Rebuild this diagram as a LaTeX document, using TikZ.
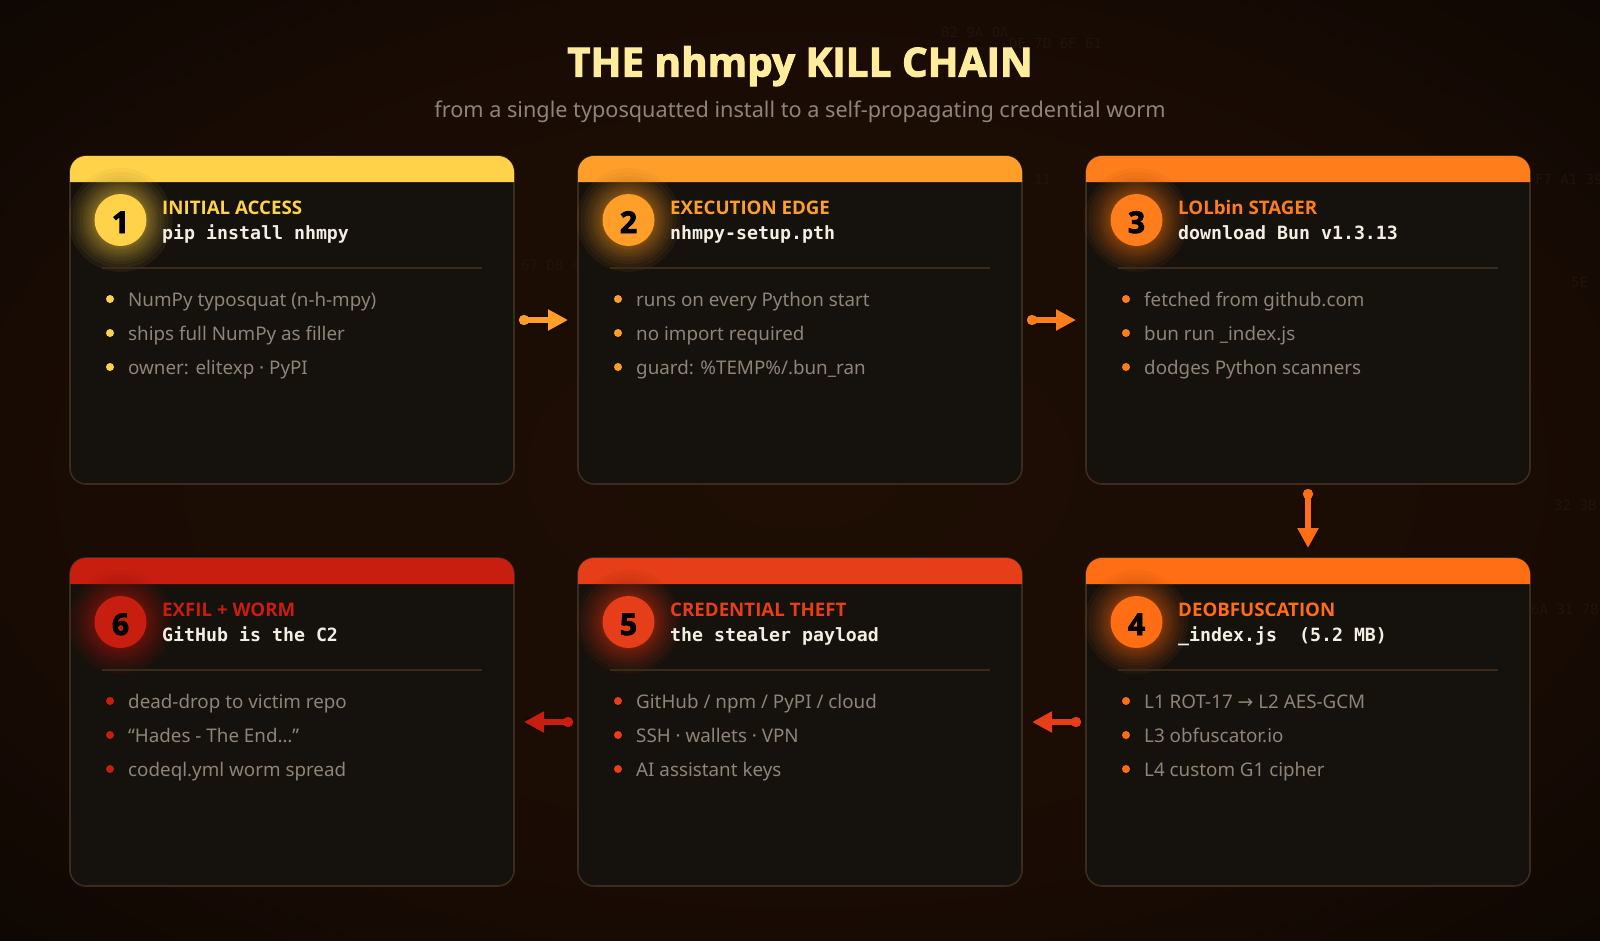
\documentclass[tikz,border=0pt]{standalone}
\usepackage{fontspec}
\setmainfont{Noto Sans}
\newfontfamily\titlefont[BoldFeatures={FakeBold=2.8,LetterSpace=0.7}]{Open Sans}
\newfontfamily\headfont{Open Sans}
\newfontfamily\codefont{DejaVu Sans Mono}
\newfontfamily\symfont{DejaVu Sans}
\usetikzlibrary{arrows.meta}
\definecolor{stageone}{HTML}{FFD24A}
\definecolor{stagetwo}{HTML}{FF9F2A}
\definecolor{stagethree}{HTML}{FF7D1A}
\definecolor{stagefour}{HTML}{FF6D14}
\definecolor{stagefive}{HTML}{E53E18}
\definecolor{stagesix}{HTML}{C81E10}
\definecolor{cardfill}{HTML}{15110C}
\definecolor{cardedge}{HTML}{3A2C1E}
\definecolor{rulecol}{HTML}{3A2A1A}
\definecolor{notecol}{HTML}{8E8478}
\definecolor{codecol}{HTML}{F4EEE2}
\definecolor{titlecol}{HTML}{FFEC9C}
\definecolor{hexcol}{HTML}{21140A}
\pgfdeclareradialshading{bgglow}{\pgfpointorigin}{rgb(0bp)=(0.118,0.055,0.016); rgb(22bp)=(0.102,0.047,0.016); rgb(36bp)=(0.055,0.027,0.012); rgb(48bp)=(0.016,0.008,0.004); rgb(71bp)=(0.004,0.004,0.004)}
\tikzset{
  card/.style={draw=cardedge, fill=cardfill, line width=1.6pt, rounded corners=16pt, minimum width=444pt, minimum height=328pt, inner sep=0pt, outer sep=0pt},
  glow/.style={fill opacity=.09},
  badge/.style={circle, minimum size=52pt, inner sep=0pt, text=black, text height=26pt, text depth=0pt, font=\titlefont\bfseries\fontsize{30}{32}\selectfont},
  stagehead/.style={anchor=base west, inner sep=0pt, font=\headfont\bfseries\fontsize{18.7}{22}\selectfont},
  stagecode/.style={anchor=base west, inner sep=0pt, text=codecol, font=\codefont\bfseries\fontsize{18.25}{22}\selectfont},
  note/.style={anchor=base west, inner sep=0pt, text=notecol, font=\fontsize{18.8}{24}\selectfont},
  cardrule/.style={draw=rulecol, line width=1.5pt},
  hexnote/.style={anchor=base west, inner sep=0pt, text=hexcol, font=\codefont\fontsize{14}{16}\selectfont},
  flow/.style={line width=5.5pt, {Circle[length=10pt]}-{Triangle[length=20pt,width=20pt]}, shorten <=5pt, shorten >=10pt, preaction={draw, -, line width=13pt, draw opacity=.08}, preaction={draw, -, line width=9pt, draw opacity=.1}}
}
\newcommand{\stageglow}[2]{\foreach \rad in {27,28,29,30,32,34,36,38,41,44,48,52} \fill[glow, #1!70!black] (#2) circle[radius=\rad pt];}
\begin{document}
\begin{tikzpicture}[x=1pt,y=-1pt]
\useasboundingbox (0,0) rectangle (1600,940);
\shade[shading=bgglow] (0,0) rectangle (1600,940);

\node[hexnote] (hexa) at (941,37) {B2 9A 0A};
\node[hexnote] (hexb) at (1009,48) {DE 7D 6F 61};
\node[hexnote] (hexc) at (1034,184) {11};
\node[hexnote] (hexd) at (1535,184) {F7 A1 39};
\node[hexnote] (hexe) at (521,270) {67 D8 4};
\node[hexnote] (hexf) at (1571,287) {5E};
\node[hexnote] (hexg) at (1554,510) {32 3B};
\node[hexnote] (hexh) at (1531,614) {6A 31 78};

\node[anchor=base, inner sep=0pt, text=titlecol, font=\titlefont\bfseries\fontsize{40}{44}\selectfont] (title) at (800,76.5) {THE nhmpy KILL CHAIN};
\node[anchor=base, inner sep=0pt, text=notecol, font=\fontsize{21.67}{26}\selectfont] (subtitle) at (800,117) {from a single typosquatted install to a self-propagating credential worm};

\node[card] (card1) at (292,320) {};
\fill[stageone] (70,182) {[rounded corners=16pt] -- (70,156) -- (514,156)} -- (514,182) -- cycle;
\stageglow{stageone}{120.5,220}
\node[badge, fill=stageone] (badge1) at (120.5,220) {1};
\node[stagehead, text=stageone] (head1) at (162,214) {INITIAL ACCESS};
\node[stagecode] (code1) at (162,239) {pip install nhmpy};
\draw[cardrule] (102,268) -- (482,268);
\fill[stageone] (110,299) circle[radius=4pt];
\fill[stageone] (110,333) circle[radius=4pt];
\fill[stageone] (110,367) circle[radius=4pt];
\node[note] (note1a) at (128,306.5) {NumPy typosquat (n-h-mpy)};
\node[note] (note1b) at (128,340.3) {ships full NumPy as filler};
\node[note] (note1c) at (128,374.3) {owner: elitexp · PyPI};

\node[card] (card2) at (800,320) {};
\fill[stagetwo] (578,182) {[rounded corners=16pt] -- (578,156) -- (1022,156)} -- (1022,182) -- cycle;
\stageglow{stagetwo}{628.5,220}
\node[badge, fill=stagetwo] (badge2) at (628.5,220) {2};
\node[stagehead, text=stagetwo] (head2) at (670,214) {EXECUTION EDGE};
\node[stagecode] (code2) at (670,239) {nhmpy-setup.pth};
\draw[cardrule] (610,268) -- (990,268);
\fill[stagetwo] (618,299) circle[radius=4pt];
\fill[stagetwo] (618,333) circle[radius=4pt];
\fill[stagetwo] (618,367) circle[radius=4pt];
\node[note] (note2a) at (636,306.5) {runs on every Python start};
\node[note] (note2b) at (636,340.3) {no import required};
\node[note] (note2c) at (636,374.3) {guard: \%TEMP\%/.bun\_ran};

\node[card] (card3) at (1308,320) {};
\fill[stagethree] (1086,182) {[rounded corners=16pt] -- (1086,156) -- (1530,156)} -- (1530,182) -- cycle;
\stageglow{stagethree}{1136.5,220}
\node[badge, fill=stagethree] (badge3) at (1136.5,220) {3};
\node[stagehead, text=stagethree] (head3) at (1178,214) {LOLbin STAGER};
\node[stagecode] (code3) at (1178,239) {download Bun v1.3.13};
\draw[cardrule] (1118,268) -- (1498,268);
\fill[stagethree] (1126,299) circle[radius=4pt];
\fill[stagethree] (1126,333) circle[radius=4pt];
\fill[stagethree] (1126,367) circle[radius=4pt];
\node[note] (note3a) at (1144,306.5) {fetched from github.com};
\node[note] (note3b) at (1144,340.3) {bun run \_index.js};
\node[note] (note3c) at (1144,374.3) {dodges Python scanners};

\node[card] (card4) at (1308,722) {};
\fill[stagefour] (1086,584) {[rounded corners=16pt] -- (1086,558) -- (1530,558)} -- (1530,584) -- cycle;
\stageglow{stagefour}{1136.5,622}
\node[badge, fill=stagefour] (badge4) at (1136.5,622) {4};
\node[stagehead, text=stagefour] (head4) at (1178,616) {DEOBFUSCATION};
\node[stagecode] (code4) at (1178,641) {\_index.js\ \ (5.2 MB)};
\draw[cardrule] (1118,670) -- (1498,670);
\fill[stagefour] (1126,701) circle[radius=4pt];
\fill[stagefour] (1126,735) circle[radius=4pt];
\fill[stagefour] (1126,769) circle[radius=4pt];
\node[note] (note4a) at (1144,708.5) {L1 ROT-17 {\symfont →} L2 AES-GCM};
\node[note] (note4b) at (1144,742.3) {L3 obfuscator.io};
\node[note] (note4c) at (1144,776.3) {L4 custom G1 cipher};

\node[card] (card5) at (800,722) {};
\fill[stagefive] (578,584) {[rounded corners=16pt] -- (578,558) -- (1022,558)} -- (1022,584) -- cycle;
\stageglow{stagefive}{628.5,622}
\node[badge, fill=stagefive] (badge5) at (628.5,622) {5};
\node[stagehead, text=stagefive] (head5) at (670,616) {CREDENTIAL THEFT};
\node[stagecode] (code5) at (670,641) {the stealer payload};
\draw[cardrule] (610,670) -- (990,670);
\fill[stagefive] (618,701) circle[radius=4pt];
\fill[stagefive] (618,735) circle[radius=4pt];
\fill[stagefive] (618,769) circle[radius=4pt];
\node[note] (note5a) at (636,708.5) {GitHub / npm / PyPI / cloud};
\node[note] (note5b) at (636,742.3) {SSH · wallets · VPN};
\node[note] (note5c) at (636,776.3) {AI assistant keys};

\node[card] (card6) at (292,722) {};
\fill[stagesix] (70,584) {[rounded corners=16pt] -- (70,558) -- (514,558)} -- (514,584) -- cycle;
\stageglow{stagesix}{120.5,622}
\node[badge, fill=stagesix] (badge6) at (120.5,622) {6};
\node[stagehead, text=stagesix] (head6) at (162,616) {EXFIL + WORM};
\node[stagecode] (code6) at (162,641) {GitHub is the C2};
\draw[cardrule] (102,670) -- (482,670);
\fill[stagesix] (110,701) circle[radius=4pt];
\fill[stagesix] (110,735) circle[radius=4pt];
\fill[stagesix] (110,769) circle[radius=4pt];
\node[note] (note6a) at (128,708.5) {dead-drop to victim repo};
\node[note] (note6b) at (128,742.3) {“Hades - The End…”};
\node[note] (note6c) at (128,776.3) {codeql.yml worm spread};

\draw[flow, stagetwo] (card1.east) -- (card2.west);
\draw[flow, stagethree] (card2.east) -- (card3.west);
\draw[flow, stagefour] (card3.south) -- (card4.north);
\draw[flow, stagefive] (card4.west) -- (card5.east);
\draw[flow, stagesix] (card5.west) -- (card6.east);
\end{tikzpicture}
\end{document}
